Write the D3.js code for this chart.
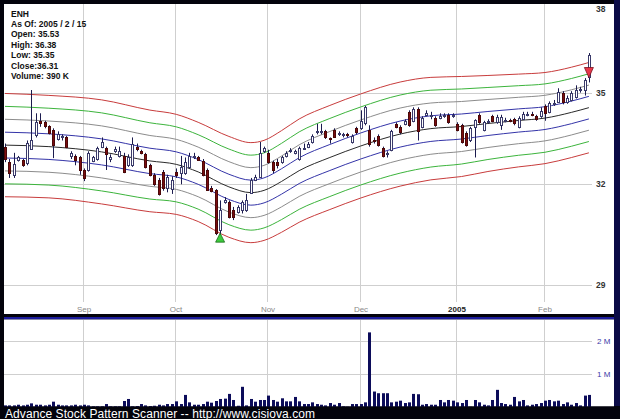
<!DOCTYPE html>
<html><head><meta charset="utf-8">
<script src="https://cdn.jsdelivr.net/npm/d3@7"></script>
<style>body{margin:0;background:#000}svg{display:block}</style>
</head><body><svg id="c" width="620" height="419"></svg>
<script>
// ---- data (trading-day index 0 = first visible day, last = 2005/2/15) ----
const opens = [33.2,32.72,32.3,32.78,32.77,32.67,33.12,33.58,34.03,34.0,33.87,33.74,33.45,33.5,33.5,32.9,32.9,32.85,32.45,32.45,32.75,32.8,33.2,33.15,32.8,33.05,32.9,32.9,32.6,32.6,33.2,33.05,32.95,32.6,32.3,32.15,32.38,31.88,31.85,32.38,32.35,32.35,32.55,32.85,32.85,32.75,32.45,31.88,31.82,30.6,31.45,31.45,31.2,31.15,31.2,31.2,31.72,32.13,32.22,33.05,32.98,32.7,32.7,32.7,32.9,33.05,33.0,32.8,33.13,33.2,33.35,33.67,33.68,33.7,33.48,33.75,33.6,33.58,33.6,33.35,33.8,33.8,33.97,33.75,33.42,33.55,33.15,32.95,33.1,33.95,33.85,33.95,34.35,34.05,34.45,33.85,34.25,34.2,34.15,34.15,34.2,34.25,34.2,33.95,33.9,33.65,33.4,33.85,34.25,33.75,34.0,34.2,34.02,33.92,34.05,34.08,34.1,33.85,34.12,34.25,34.28,34.2,34.2,34.55,34.35,34.62,34.68,34.98,34.68,34.75,34.85,35.08,35.08,35.53];
const highs = [33.3,32.8,33.0,32.9,32.8,33.4,35.09,34.3,34.3,34.05,33.9,33.8,33.7,33.6,33.55,33.05,32.95,32.9,32.5,33.05,32.9,33.2,33.5,33.2,32.95,33.2,33.2,33.0,32.95,33.5,33.3,33.1,33.0,32.65,32.35,32.2,32.45,32.3,32.25,32.5,32.9,32.85,33.0,33.0,32.9,32.8,32.5,31.95,31.85,31.5,31.6,31.5,31.3,31.35,31.5,31.7,32.2,32.3,33.35,33.2,33.1,32.75,32.8,32.9,33.05,33.15,33.1,33.2,33.3,33.35,33.6,33.95,33.95,33.75,33.5,33.8,33.7,33.65,33.65,33.6,33.85,34.4,34.55,33.9,33.5,33.6,33.2,33.05,33.75,34.0,33.9,34.1,34.4,34.5,34.5,34.2,34.4,34.35,34.2,34.3,34.3,34.3,34.3,34.0,33.95,33.7,33.85,34.1,34.3,34.05,34.1,34.25,34.25,34.25,34.15,34.12,34.15,34.2,34.35,34.35,34.35,34.25,34.5,34.6,34.7,34.75,35.15,35.05,34.9,35.05,35.25,35.2,35.5,36.38];
const lows = [32.7,32.2,32.2,32.72,32.55,32.6,33.1,33.5,33.85,33.8,33.6,32.83,33.4,33.4,33.15,32.8,32.6,32.3,32.1,32.4,32.7,32.75,33.15,32.45,32.7,33.0,32.85,32.35,32.55,32.55,33.05,32.95,32.5,32.25,31.95,31.65,31.8,31.75,31.7,32.2,32.0,32.3,32.5,32.8,32.75,32.25,31.8,31.75,30.45,30.3,31.4,30.95,30.9,31.1,31.1,31.15,31.7,32.1,32.2,33.0,32.65,32.35,32.5,32.65,32.85,33.0,32.95,32.75,33.1,33.15,33.3,33.6,33.6,33.45,33.3,33.5,33.55,33.5,33.5,33.3,33.6,33.75,33.9,33.2,33.3,33.2,32.85,32.85,33.05,33.8,33.6,33.9,33.85,34.0,33.4,33.8,34.2,34.1,33.85,34.1,34.15,33.95,34.15,33.7,33.3,33.2,33.35,32.85,33.95,33.7,33.95,34.0,33.95,33.75,34.0,34.0,33.9,33.8,34.1,34.2,34.2,34.05,34.15,34.05,34.3,34.55,34.65,34.6,34.62,34.7,34.8,35.0,34.9,35.35];
const closes = [32.8,32.35,32.65,32.85,32.6,33.32,33.42,34.0,33.97,33.87,33.63,33.25,33.6,33.55,33.2,33.0,32.77,32.45,32.2,33.0,32.85,33.15,33.35,32.95,32.85,33.12,33.05,32.4,32.85,33.3,33.12,33.0,32.55,32.3,32.0,31.7,31.88,32.22,32.15,32.28,32.55,32.7,32.9,32.9,32.78,32.3,31.82,31.8,30.5,31.2,31.5,31.0,31.0,31.3,31.45,31.5,32.13,32.22,32.98,33.15,32.7,32.45,32.6,32.85,33.0,33.1,33.05,33.15,33.17,33.28,33.55,33.72,33.72,33.5,33.45,33.52,33.65,33.6,33.58,33.55,33.68,34.05,34.5,33.3,33.37,33.25,32.9,33.0,33.7,33.85,33.68,34.05,33.9,34.45,33.7,34.15,34.3,34.25,33.9,34.22,34.25,34.0,34.25,33.75,33.35,33.25,33.8,34.08,34.0,34.0,34.05,34.05,34.18,34.18,34.08,34.05,33.97,34.15,34.28,34.28,34.25,34.1,34.38,34.32,34.65,34.66,35.02,34.68,34.82,35.0,35.08,35.12,35.42,36.31];
const volumesM = [0.08,0.08,0.08,0.1,0.08,0.1,0.14,0.1,0.1,0.08,0.1,0.19,0.1,0.08,0.08,0.08,0.1,0.08,0.1,0.08,0.05,0.05,0.05,0.12,0.05,0.05,0.05,0.21,0.27,0.05,0.06,0.12,0.08,0.06,0.07,0.1,0.08,0.12,0.12,0.2,0.12,0.39,0.17,0.1,0.1,0.12,0.19,0.16,0.21,0.27,0.28,0.42,0.24,0.07,0.63,0.08,0.27,0.19,0.24,0.24,0.37,0.24,0.19,0.29,0.2,0.2,0.33,0.2,0.12,0.12,0.17,0.12,0.1,0.08,0.15,0.1,0.15,0.05,0.04,0.12,0.12,0.12,0.17,2.24,0.49,0.44,0.44,0.44,0.17,0.19,0.22,0.15,0.17,0.42,0.41,0.1,0.12,0.1,0.1,0.24,0.17,0.24,0.22,0.17,0.15,0.24,0.04,0.24,0.17,0.1,0.08,0.24,0.54,0.15,0.12,0.1,0.33,0.2,0.24,0.08,0.1,0.12,0.15,0.22,0.24,0.2,0.22,0.12,0.17,0.1,0.15,0.08,0.37,0.39];

// envelope lines: centre line read at sample days, spacing between adjacent lines (%)
const bandDays = [0,10,22,33,39,44,51,56,59,63,67,74,81,90,97,104,110,117,123,129,133];
const bandMid  = [33.25,33.20,33.03,32.74,32.63,32.39,31.92,31.74,31.81,32.09,32.43,32.85,33.22,33.61,33.79,33.86,33.96,34.06,34.14,34.33,34.49];
const bandStep = [1.27,1.26,1.28,1.25,1.23,1.22,1.24,1.23,1.23,1.25,1.27,1.28,1.28,1.28,1.26,1.23,1.18,1.14,1.12,1.11,1.11];
const bandLevels = [4,3,2,1,0,-1,-2,-3,-4];
const bandColors = ["#c83c3c","#3cb43c","#8c8c8c","#3434a8","#2a2a2a","#3434a8","#8c8c8c","#3cb43c","#c83c3c"];

const monthDays = [18,39,60,81,103,123];
const monthLabels = ["Sep","Oct","Nov","Dec","2005","Feb"];
const priceTicks = [38,35,32,29];
const volTicks = [2,1];
const legendLines = ["ENH","As Of: 2005 / 2 / 15","Open: 35.53","High: 36.38","Low: 35.35","Close:36.31","Volume: 390 K"];
const buyDay = 49, sellDay = 133;
const footer = "Advance Stock Pattern Scanner -- http://www.cisiova.com";

// ---- drawing ----
const svg = d3.select("#c");
const n = closes.length;
const x = d3.scaleLinear().domain([0, n-1]).range([5, 588.9]);
const y = d3.scaleLog().domain([29, 38]).range([285, 8.5]);
const yv = d3.scaleLinear().domain([0, 2]).range([408.1, 340.5]);
const px = i => Math.round(x(i));
const font = "Arial, 'Liberation Sans', sans-serif";

svg.append("rect").attr("width",620).attr("height",419).attr("fill","#03030c");
svg.append("rect").attr("x",614).attr("y",0).attr("width",6).attr("height",406).attr("fill","#0b0b46");
svg.append("rect").attr("x",4).attr("y",4).attr("width",610).attr("height",310).attr("fill","#fff");
svg.append("rect").attr("x",4).attr("y",317).attr("width",610).attr("height",2.5).attr("fill","#1c1c9c");
svg.append("rect").attr("x",4).attr("y",319.5).attr("width",610).attr("height",87).attr("fill","#fff");

const grid = svg.append("g").attr("stroke","#cfcfcf").attr("stroke-width",1);
priceTicks.filter(v=>v<38).forEach(v=>{
  const yy = Math.round(y(v))+0.5;
  grid.append("line").attr("x1",4).attr("x2",592).attr("y1",yy).attr("y2",yy);
});
volTicks.forEach(v=>{
  const yy = Math.round(yv(v))+0.5;
  grid.append("line").attr("x1",4).attr("x2",592).attr("y1",yy).attr("y2",yy);
});
monthDays.forEach(d=>{
  const xx = px(d)-0.5;
  grid.append("line").attr("x1",xx).attr("x2",xx).attr("y1",4).attr("y2",302);
  grid.append("line").attr("x1",xx).attr("x2",xx).attr("y1",320).attr("y2",407);
});

// envelope lines
const line = d3.line().x(d=>x(d[0])).y(d=>y(d[1])).curve(d3.curveMonotoneX);
bandLevels.forEach((k,j)=>{
  const pts = bandDays.map((d,m)=>[d, bandMid[m]*Math.pow(1 + bandStep[m]/100, k)]);
  svg.append("path").attr("d", line(pts)).attr("fill","none")
     .attr("stroke", bandColors[j]).attr("stroke-width",1);
});

// candles
const cg = svg.append("g");
d3.range(n).forEach(i=>{
  const cx = px(i);
  const up = closes[i] >= opens[i];
  cg.append("line").attr("x1",cx+0.5).attr("x2",cx+0.5)
    .attr("y1",y(highs[i])).attr("y2",y(lows[i]))
    .attr("stroke","#1b1b4e").attr("stroke-width",1);
  const top = y(Math.max(opens[i],closes[i])), bot = y(Math.min(opens[i],closes[i]));
  const t = Math.round(top)+0.5, b = Math.max(Math.round(bot)+0.5, t+1);
  cg.append("rect").attr("x",cx-0.5).attr("width",2).attr("y",t).attr("height",b-t)
    .attr("fill", up ? "#fff" : "#7c0c10")
    .attr("stroke", up ? "#3a3a6a" : "#4a0808").attr("stroke-width",1);
});

// signals
const bx = x(buyDay), by = y(lows[buyDay]) - 7;
svg.append("path").attr("d",`M${bx},${by} L${bx+4.5},${by+9} L${bx-4.5},${by+9} Z`)
  .attr("fill","#3ccc3c").attr("stroke","#1a6a1a").attr("stroke-width",0.8);
const sx = x(sellDay), sy = 67.5;
svg.append("path").attr("d",`M${sx-4.5},${sy} L${sx+4.5},${sy} L${sx},${sy+10} Z`)
  .attr("fill","#e8384a").attr("stroke","#7a1020").attr("stroke-width",0.8);

// volume
svg.append("g").selectAll("rect").data(volumesM).join("rect")
  .attr("x",(d,i)=>px(i)-1).attr("width",3)
  .attr("y",d=>yv(d)).attr("height",d=>yv(0)-yv(d)).attr("fill","#0c0c5a");

// bottom band
svg.append("rect").attr("x",0).attr("y",406.5).attr("width",620).attr("height",12.5).attr("fill","#03030c");
svg.append("text").attr("x",5).attr("y",417.5).attr("fill","#fff")
  .attr("font-family",font).attr("font-size",12)
  .attr("textLength",310).attr("lengthAdjust","spacing").text(footer);

// labels
priceTicks.forEach(v=>{
  svg.append("text").attr("x",596).attr("y",y(v)+3).attr("font-family",font)
    .attr("font-size",8.5).attr("font-weight","bold").attr("fill","#333").text(v);
});
volTicks.forEach(v=>{
  svg.append("text").attr("x",597).attr("y",yv(v)+3).attr("font-family",font)
    .attr("font-size",8).attr("fill","#3a3aa8").text(v+" M");
});
monthDays.forEach((d,k)=>{
  svg.append("text").attr("x",px(d)).attr("y",312).attr("text-anchor","middle")
    .attr("font-family",font).attr("font-size",8)
    .attr("font-weight", monthLabels[k]==="2005" ? "bold":"normal")
    .attr("fill", monthLabels[k]==="2005" ? "#222":"#888").text(monthLabels[k]);
});
legendLines.forEach((s,k)=>{
  svg.append("text").attr("x",11).attr("y",16.5+k*10.4).attr("font-family",font)
    .attr("font-size",8.5).attr("font-weight","bold").attr("fill","#111").text(s);
});
</script></body></html>
